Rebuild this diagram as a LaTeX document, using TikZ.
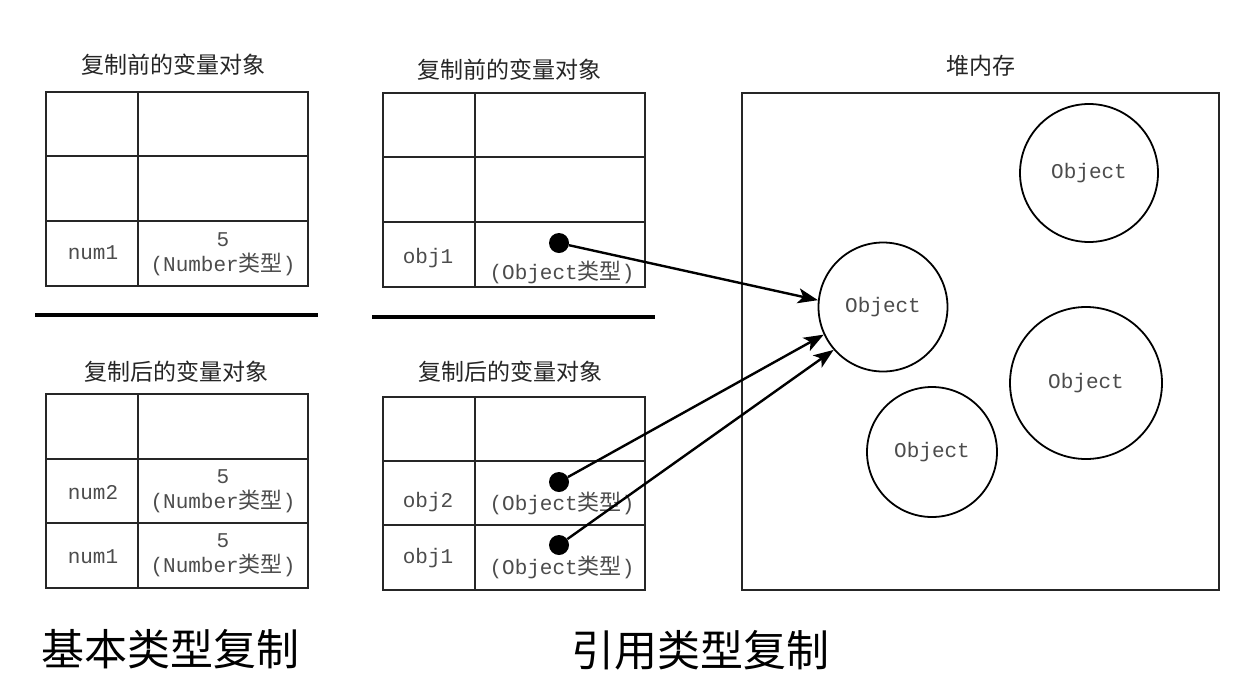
\documentclass[tikz,border=0pt]{standalone}
\usepackage{fontspec}
\newfontfamily\monof{Liberation Mono}
\newfontfamily\cjkf{Noto Sans CJK SC}
\usetikzlibrary{arrows.meta,shapes.geometric}
\newcommand\zh[1]{{\cjkf\fontsize{22}{24}\selectfont #1}}
\begin{document}
\begin{tikzpicture}[x=1pt,y=-1pt,
  grid/.style={line width=1.8pt, black!85},
  mtext/.style={font=\monof\fontsize{21}{25}\selectfont, text=black!70, inner sep=0, align=center},
  ttl/.style={font=\cjkf\fontsize{23}{26}\selectfont, text=black!85, inner sep=0},
  big/.style={font=\cjkf\fontsize{43}{46}\selectfont, inner sep=0},
  obj/.style={circle, draw, line width=1.8pt, inner sep=0, font=\monof\fontsize{21}{25}\selectfont, text=black!70},
  dot/.style={circle, fill, inner sep=0, minimum size=20pt},
  arr/.style={line width=2.4pt, -{Stealth[length=20pt,width=15pt,inset=5pt]}},
  sepline/.style={line width=3.5pt}
]
\useasboundingbox[fill=white] (0,0) rectangle (1244,694);

% titles
\node[ttl] (t1) at (173,65) {复制前的变量对象};
\node[ttl] (t2) at (509,70) {复制前的变量对象};
\node[ttl] (t3) at (176,372) {复制后的变量对象};
\node[ttl] (t4) at (510,372) {复制后的变量对象};
\node[ttl] (t5) at (981,66) {堆内存};

% left top table
\draw[grid] (46,92) rectangle (308,286);
\draw[grid] (138,92) -- (138,286);
\draw[grid] (46,156) -- (308,156);
\draw[grid] (46,221) -- (308,221);
\node[mtext] (lt1) at (93,253) {num1};
\node[mtext] (lt2) at (223,254) {5\\(Number\zh{类型})};

% middle top table
\draw[grid] (383,93) rectangle (645,287);
\draw[grid] (475,93) -- (475,287);
\draw[grid] (383,157) -- (645,157);
\draw[grid] (383,222) -- (645,222);
\node[mtext] (mt1) at (428,258) {obj1};
\node[mtext] (mt2) at (562,272) {(Object\zh{类型})};
\node[dot] (d1) at (559,243) {};

% separators
\draw[sepline] (35,315) -- (318,315);
\draw[sepline] (372,317) -- (655,317);

% left bottom table
\draw[grid] (46,394) rectangle (308,588);
\draw[grid] (138,394) -- (138,588);
\draw[grid] (46,459) -- (308,459);
\draw[grid] (46,523) -- (308,523);
\node[mtext] (lb1) at (93,493) {num2};
\node[mtext] (lb2) at (223,491) {5\\(Number\zh{类型})};
\node[mtext] (lb3) at (93,557) {num1};
\node[mtext] (lb4) at (223,555) {5\\(Number\zh{类型})};

% middle bottom table
\draw[grid] (383,397) rectangle (645,590);
\draw[grid] (475,397) -- (475,590);
\draw[grid] (383,461) -- (645,461);
\draw[grid] (383,525) -- (645,525);
\node[mtext] (mb1) at (428,502) {obj2};
\node[mtext] (mb2) at (562,503) {(Object\zh{类型})};
\node[mtext] (mb3) at (428,558) {obj1};
\node[mtext] (mb4) at (562,567) {(Object\zh{类型})};
\node[dot] (d2) at (559,482) {};
\node[dot] (d3) at (559,545) {};

% heap
\draw[grid] (742,93) rectangle (1219,590);
\node[obj, minimum size=129pt] (objA) at (883,307) {Object};
\node[obj, minimum size=138pt] (objB) at (1089,173) {Object};
\node[obj, minimum size=152pt] (objC) at (1086,383) {Object};
\node[obj, minimum size=130pt] (objD) at (932,452) {Object};

% arrows
\draw[arr] (d1) -- (objA.174);
\draw[arr] (d2) -- (objA.205);
\draw[arr] (d3) -- (objA.221);

% bottom captions
\node[big] (c1) at (170,649) {基本类型复制};
\node[big] (c2) at (700,650) {引用类型复制};
\end{tikzpicture}
\end{document}
